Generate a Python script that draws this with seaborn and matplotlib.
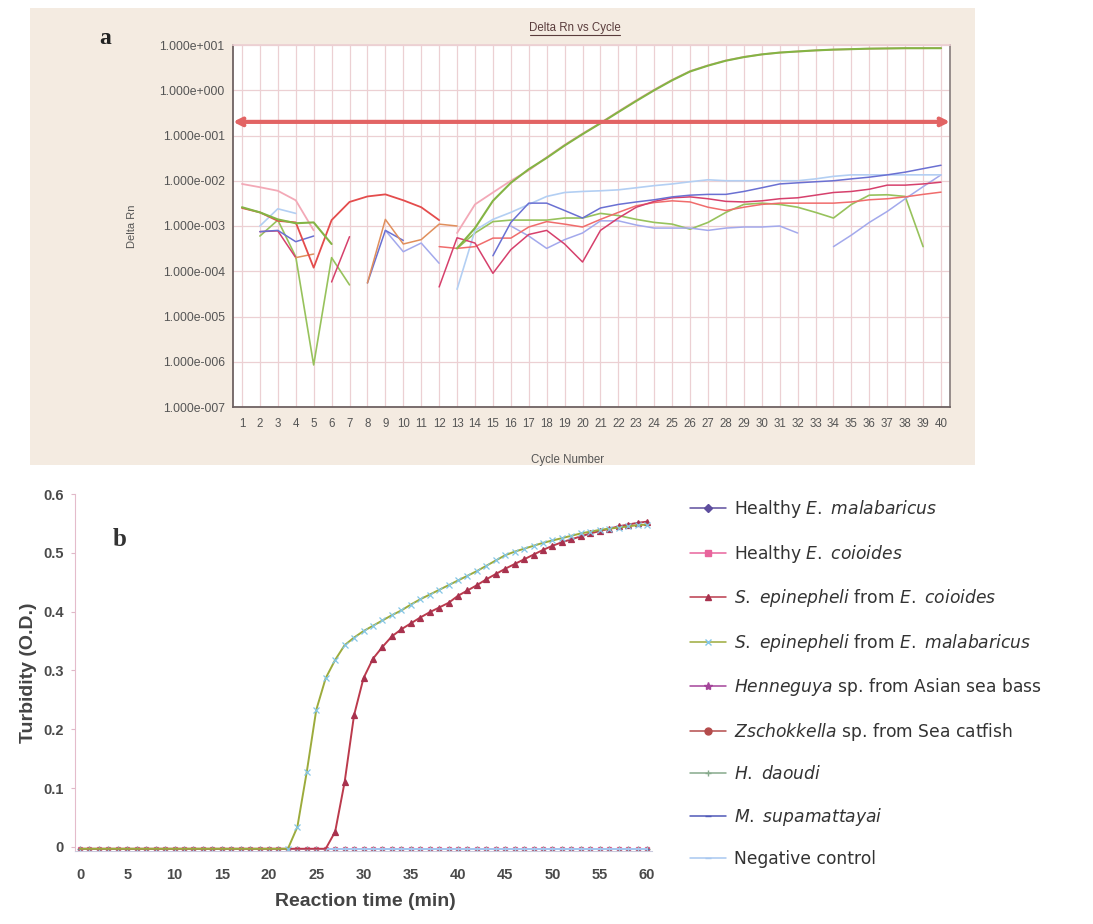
import numpy as np
import pandas as pd
import seaborn as sns
import matplotlib.pyplot as plt
from matplotlib.lines import Line2D
from matplotlib.patches import Rectangle
from matplotlib.ticker import FixedLocator, NullLocator, FuncFormatter

N = np.nan

# ---- panel a: Delta Rn vs Cycle (real-time LAMP / qPCR style) ----
cycles = list(range(1, 41))
threshold = 0.2

amp_green = [2.6e-3, 2.0e-3, 1.4e-3, 1.15e-3, 1.2e-3, 4.0e-4, N, N, N, N,
             N, N, 3.2e-4, 9.0e-4, 3.6e-3, 9.0e-3, 1.8e-2, 3.2e-2, 6.0e-2, 1.07e-1,
             1.86e-1, 3.3e-1, 5.8e-1, 1.0, 1.66, 2.6, 3.5, 4.5, 5.4, 6.2,
             6.8, 7.2, 7.6, 7.9, 8.1, 8.3, 8.4, 8.5, 8.5, 8.5]
amp_pink = [8.5e-3, 7.2e-3, 6.0e-3, 3.7e-3, 8.0e-4, N, N, N, N, N,
            N, N, 7.0e-4, 3.0e-3, 5.5e-3, 1.0e-2, 1.7e-2, 3.3e-2, 6.2e-2, 1.1e-1,
            1.9e-1, 3.4e-1, 6.0e-1, 1.03, 1.7, 2.65, 3.55, 4.55, 5.45, 6.2,
            6.8, 7.2, 7.6, 7.9, 8.1, 8.3, 8.4, 8.5, 8.5, 8.6]
red_arc = [2.5e-3, 2.0e-3, 1.3e-3, 1.2e-3, 1.2e-4, 1.35e-3, 3.4e-3, 4.5e-3, 5.0e-3, 3.7e-3,
           2.6e-3, 1.35e-3, N, N, N, N, N, N, N, N,
           N, N, N, N, N, N, N, N, N, N,
           N, N, N, N, N, N, N, N, N, N]
orange = [N, N, N, 2.0e-4, 2.4e-4, N, N, 5.5e-5, 1.4e-3, 4.0e-4,
          5.0e-4, 1.1e-3, 1.0e-3, N, N, N, N, N, N, N,
          N, N, N, N, N, N, N, N, N, N,
          N, N, N, N, N, N, N, N, N, N]
blue = [N, 7.5e-4, 8.0e-4, 4.5e-4, 6.0e-4, N, N, 5.5e-5, 8.0e-4, 4.8e-4,
        N, N, N, N, 2.2e-4, 1.2e-3, 3.2e-3, 3.2e-3, 2.2e-3, 1.5e-3,
        2.5e-3, 3.0e-3, 3.4e-3, 3.8e-3, 4.4e-3, 4.8e-3, 5.0e-3, 5.0e-3, 5.8e-3, 7.0e-3,
        8.5e-3, 9.0e-3, 9.5e-3, 1.0e-2, 1.1e-2, 1.2e-2, 1.35e-2, 1.55e-2, 1.85e-2, 2.2e-2]
light_blue = [N, 1.0e-3, 2.4e-3, 1.9e-3, N, N, N, N, N, N,
              N, N, 4.0e-5, 8.0e-4, 1.4e-3, 2.0e-3, 3.0e-3, 4.5e-3, 5.5e-3, 5.8e-3,
              6.0e-3, 6.3e-3, 7.0e-3, 7.8e-3, 8.5e-3, 9.5e-3, 1.05e-2, 1.0e-2, 1.0e-2, 1.0e-2,
              1.0e-2, 1.0e-2, 1.1e-2, 1.25e-2, 1.35e-2, 1.35e-2, 1.35e-2, 1.35e-2, 1.35e-2, 1.35e-2]
magenta = [N, 7.5e-4, 7.8e-4, 2.0e-4, N, 5.8e-5, 5.8e-4, N, N, N,
           N, 4.5e-5, 5.5e-4, 4.2e-4, 9.0e-5, 3.0e-4, 6.5e-4, 8.0e-4, 4.0e-4, 1.6e-4,
           8.0e-4, 1.5e-3, 2.6e-3, 3.5e-3, 4.2e-3, 4.4e-3, 4.0e-3, 3.5e-3, 3.4e-3, 3.6e-3,
           4.0e-3, 4.2e-3, 4.8e-3, 5.5e-3, 5.8e-3, 6.5e-3, 8.0e-3, 8.0e-3, 8.5e-3, 9.3e-3]
red_low = [N, N, N, N, N, N, N, N, N, N,
           N, 3.5e-4, 3.2e-4, 3.5e-4, 5.4e-4, 5.4e-4, 9.5e-4, 1.25e-3, 1.1e-3, 9.5e-4,
           1.4e-3, 2.0e-3, 2.8e-3, 3.3e-3, 3.6e-3, 3.4e-3, 2.6e-3, 2.2e-3, 2.6e-3, 3.0e-3,
           3.2e-3, 3.2e-3, 3.2e-3, 3.2e-3, 3.4e-3, 3.8e-3, 4.0e-3, 4.4e-3, 5.0e-3, 5.6e-3]
lavender = [N, N, N, N, N, N, N, N, 8.0e-4, 2.7e-4,
            4.2e-4, 1.5e-4, N, N, N, 1.0e-3, 6.0e-4, 3.2e-4, 5.0e-4, 7.0e-4,
            1.3e-3, 1.3e-3, 1.05e-3, 9.0e-4, 9.0e-4, 9.0e-4, 8.0e-4, 9.0e-4, 9.5e-4, 9.5e-4,
            1.0e-3, 7.0e-4, N, 3.5e-4, 6.3e-4, 1.2e-3, 2.1e-3, 4.0e-3, 7.4e-3, 1.35e-2]
green_low = [N, 6.0e-4, 1.35e-3, 2.1e-4, 8.5e-7, 2.0e-4, 5.0e-5, N, N, N,
             N, N, 3.2e-4, 7.0e-4, 1.25e-3, 1.35e-3, 1.35e-3, 1.35e-3, 1.5e-3, 1.5e-3,
             1.9e-3, 1.7e-3, 1.4e-3, 1.2e-3, 1.1e-3, 8.5e-4, 1.2e-3, 2.0e-3, 3.0e-3, 3.2e-3,
             3.0e-3, 2.6e-3, 2.0e-3, 1.5e-3, 3.0e-3, 4.8e-3, 4.9e-3, 4.5e-3, 3.5e-4, N]

# ---- panel b: turbidity over reaction time ----
time_min = list(range(0, 61))
baseline = -0.003
sepi_coioides = [baseline] * 27 + [
    0.026, 0.11, 0.224, 0.287, 0.32, 0.34, 0.358, 0.37, 0.38, 0.39,
    0.399, 0.407, 0.415, 0.427, 0.436, 0.445, 0.455, 0.464, 0.473, 0.481,
    0.489, 0.497, 0.505, 0.512, 0.518, 0.523, 0.528, 0.533, 0.537, 0.541,
    0.545, 0.548, 0.551, 0.553]
sepi_malabaricus = [baseline] * 23 + [
    0.034, 0.128, 0.233, 0.287, 0.318, 0.343, 0.356, 0.367, 0.376, 0.385,
    0.394, 0.402, 0.412, 0.421, 0.429, 0.437, 0.445, 0.453, 0.461, 0.469,
    0.478, 0.487, 0.496, 0.502, 0.507, 0.512, 0.517, 0.521, 0.525, 0.529,
    0.533, 0.536, 0.539, 0.541, 0.543, 0.545, 0.547, 0.548]
healthy_malabaricus = [-0.003] * 61
healthy_coioides = [-0.003] * 61
henneguya = [-0.003] * 61
zschokkella = [-0.003] * 61
h_daoudi = [-0.003] * 61
m_supamattayai = [-0.004] * 61
negative = [-0.003] * 61

labels_b = [
    r'Healthy $\mathit{E.}$ $\mathit{malabaricus}$',
    r'Healthy $\mathit{E.}$ $\mathit{coioides}$',
    r'$\mathit{S.}$ $\mathit{epinepheli}$ from $\mathit{E.}$ $\mathit{coioides}$',
    r'$\mathit{S.}$ $\mathit{epinepheli}$ from $\mathit{E.}$ $\mathit{malabaricus}$',
    r'$\mathit{Henneguya}$ sp. from Asian sea bass',
    r'$\mathit{Zschokkella}$ sp. from Sea catfish',
    r'$\mathit{H.}$ $\mathit{daoudi}$',
    r'$\mathit{M.}$ $\mathit{supamattayai}$',
    'Negative control',
]

sns.set_theme(style='white')
plt.rcParams['font.family'] = ['Liberation Sans', 'DejaVu Sans']
plt.rcParams['mathtext.fontset'] = 'custom'
plt.rcParams['mathtext.rm'] = 'DejaVu Sans'
plt.rcParams['mathtext.it'] = 'DejaVu Sans:italic'

fig = plt.figure(figsize=(10.93, 9.24), dpi=100)
fig.patch.set_facecolor('white')
fig.add_artist(Rectangle((30 / 1093, 1 - 465 / 924), 945 / 1093, 457 / 924,
                         transform=fig.transFigure, facecolor='#f4ebe1',
                         edgecolor='none', zorder=-10))

# ================= panel a =================
ax = fig.add_axes([233 / 1093, 1 - 407 / 924, 717 / 1093, 362 / 924])
ax.set_facecolor('white')
ax.set_yscale('log')

series_a = [
    (green_low, '#97c25c', 1.2),
    (lavender, '#a3a9ec', 1.1),
    (light_blue, '#b3cff3', 1.2),
    (red_low, '#f06c6c', 1.1),
    (magenta, '#d6406c', 1.1),
    (blue, '#6a70d2', 1.1),
    (orange, '#e08f5c', 1.1),
    (red_arc, '#e44c4c', 1.3),
    (amp_pink, '#f3a9b7', 1.3),
    (amp_green, '#84b444', 1.5),
]
for vals, color, lw in series_a:
    d = pd.DataFrame({'cycle': cycles, 'rn': vals})
    d['seg'] = d['rn'].isna().cumsum()
    d = d.dropna()
    sns.lineplot(data=d, x='cycle', y='rn', units='seg', estimator=None,
                 color=color, lw=lw, ax=ax, legend=False)

ax.annotate('', xy=(0.5, threshold), xytext=(40.5, threshold),
            arrowprops=dict(arrowstyle='<->', color='#e26464', lw=3,
                            shrinkA=0, shrinkB=0, mutation_scale=12))

ax.set_xlim(0.5, 40.5)
ax.set_ylim(1e-7, 1e1)
ax.xaxis.set_major_locator(FixedLocator(cycles))
ax.yaxis.set_major_locator(FixedLocator([10.0 ** k for k in range(-7, 2)]))
ax.yaxis.set_minor_locator(NullLocator())
ax.yaxis.set_major_formatter(FuncFormatter(
    lambda v, p: '1.000e{:+04d}'.format(int(round(np.log10(v))))))
ax.tick_params(axis='both', length=0, labelcolor='#555555')
ax.tick_params(axis='y', pad=6, labelsize=8.8)
ax.tick_params(axis='x', pad=8, labelsize=8.3)
ax.grid(True, color='#ecd0d3', lw=0.9)
for side in ['left', 'bottom']:
    ax.spines[side].set_color('#6e6262')
    ax.spines[side].set_linewidth(1.3)
ax.spines['top'].set_color('#ecd0d3')
ax.spines['right'].set_color('#8a8080')
ax.set_xlabel('Cycle Number', fontsize=8.3, color='#555555')
ax.set_ylabel('Delta Rn', fontsize=8, color='#555555')
ax.xaxis.set_label_coords(0.467, -0.13)
ax.yaxis.set_label_coords(-0.134, 0.5)

fig.text(575 / 1093, 1 - 28 / 924, 'Delta Rn vs Cycle', ha='center', va='center',
         fontsize=8.3, color='#5a3c3c')
fig.add_artist(Line2D([530 / 1093, 620 / 1093], [1 - 35 / 924, 1 - 35 / 924],
                      transform=fig.transFigure, color='#5a3c3c', lw=0.8))
fig.text(105 / 1093, 1 - 38 / 924, 'a', ha='center', va='center', fontsize=17,
         fontweight='bold', family='Liberation Serif', color='#222222')

# ================= panel b =================
ax2 = fig.add_axes([75 / 1093, 1 - 851 / 924, 577 / 1093, 357 / 924])
ax2.set_facecolor('white')

series_b = [
    (healthy_malabaricus, '#5e4e9e', 'D', '#5e4e9e', 2.2, None),
    (healthy_coioides, '#e8649c', 's', '#e8649c', 2.2, None),
    (henneguya, '#a4449a', '*', '#a4449a', 2.5, None),
    (zschokkella, '#b44c4c', 'o', '#b44c4c', 2.2, None),
    (h_daoudi, '#86aa8c', '+', '#86aa8c', 4, None),
    (m_supamattayai, '#5058b8', '_', '#5058b8', 3, None),
    (negative, '#a8c8f0', '|', '#a8c8f0', 3, None),
    (sepi_coioides, '#bb3a4c', '^', '#a8324e', 5, slice(27, None)),
    (sepi_malabaricus, '#9cab3c', 'x', '#84c6e6', 5, slice(22, None)),
]
for vals, color, mk, mcol, ms, every in series_b:
    d = pd.DataFrame({'t': time_min, 'od': vals})
    sns.lineplot(data=d, x='t', y='od', color=color, lw=1.4, marker=mk,
                 markersize=ms, markerfacecolor=mcol, markeredgecolor=mcol,
                 markeredgewidth=0.9, markevery=every, ax=ax2, legend=False)

ax2.set_xlim(-0.53, 60.53)
ax2.set_ylim(-0.0068, 0.6)
ax2.set_xticks(range(0, 61, 5))
ax2.set_yticks([0, 0.1, 0.2, 0.3, 0.4, 0.5, 0.6])
ax2.set_yticklabels(['0', '0.1', '0.2', '0.3', '0.4', '0.5', '0.6'])
ax2.tick_params(axis='x', length=0, pad=12, labelsize=10.5, labelcolor='#4a4a4a')
ax2.tick_params(axis='y', length=3, width=0.8, color='#e0b8c8', pad=5,
                labelsize=10.5, labelcolor='#4a4a4a', left=True)
for lab in ax2.get_xticklabels() + ax2.get_yticklabels():
    lab.set_fontweight('bold')
for side in ['top', 'right']:
    ax2.spines[side].set_visible(False)
ax2.spines['left'].set_color('#e4bccb')
ax2.spines['left'].set_linewidth(0.8)
ax2.spines['bottom'].set_color('#c9c9dd')
ax2.spines['bottom'].set_linewidth(0.8)
ax2.set_xlabel('Reaction time (min)', fontsize=14, fontweight='bold', color='#444444')
ax2.set_ylabel('Turbidity (O.D.)', fontsize=14, fontweight='bold', color='#444444')
ax2.xaxis.set_label_coords(0.503, -0.118)
ax2.yaxis.set_label_coords(-0.065, 0.5)

fig.text(120 / 1093, 1 - 540 / 924, 'b', ha='center', va='center', fontsize=18,
         fontweight='bold', family='Liberation Serif', color='#333333')

handle_styles = [
    ('#5e4e9e', 'D', '#5e4e9e', 4),
    ('#e8649c', 's', '#e8649c', 5),
    ('#bb3a4c', '^', '#a8324e', 5),
    ('#9cab3c', 'x', '#84c6e6', 5),
    ('#a4449a', '*', '#a4449a', 6),
    ('#b44c4c', 'o', '#b44c4c', 5),
    ('#86aa8c', '+', '#86aa8c', 5),
    ('#5058b8', '_', '#5058b8', 5),
    ('#a8c8f0', '_', '#a8c8f0', 5),
]
handles = [Line2D([], [], color=c, lw=1.1, marker=m, markersize=ms,
                  markerfacecolor=mc, markeredgecolor=mc)
           for c, m, mc, ms in handle_styles]
leg = fig.legend(handles, labels_b, loc='upper left',
                 bbox_to_anchor=(690 / 1093, 1 - 498 / 924), frameon=False,
                 prop={'family': 'DejaVu Sans', 'size': 12.3},
                 handlelength=2.1, handletextpad=0.5,
                 labelspacing=1.32, borderpad=0, borderaxespad=0)
for t in leg.get_texts():
    t.set_color('#333333')

fig.savefig('out.png', dpi=100)
